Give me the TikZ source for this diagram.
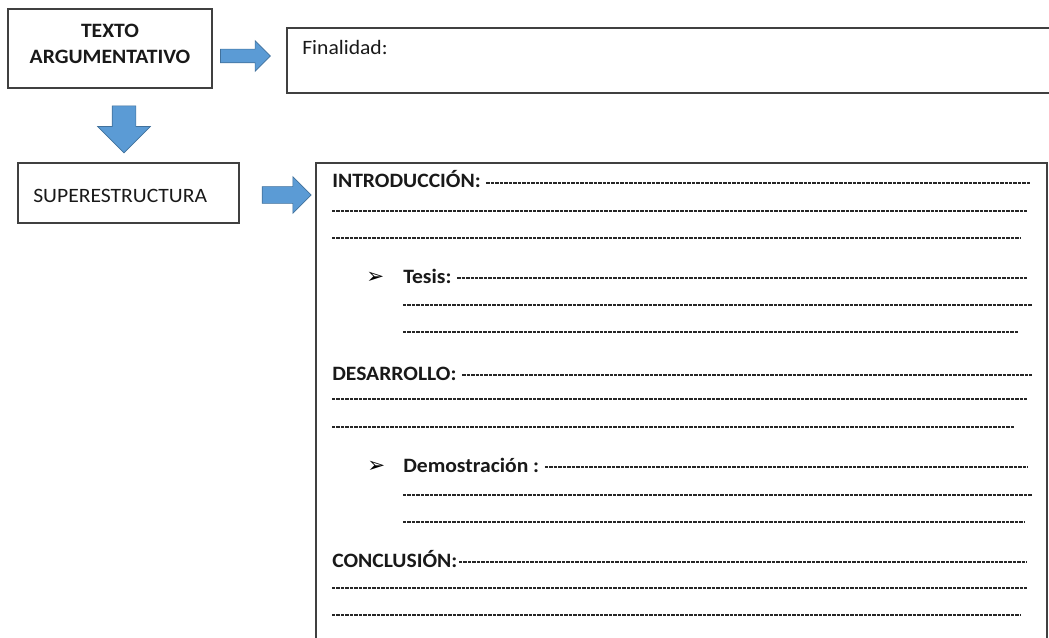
\documentclass[tikz,border=0pt]{standalone}
\usepackage{fontspec}
\setmainfont{Carlito}[FakeStretch=1.06]
\newfontfamily\symfont{DejaVu Sans}
\usetikzlibrary{shapes.arrows}
\usetikzlibrary{positioning}
\definecolor{arrowBlue}{HTML}{5B9BD5}
\definecolor{arrowEdge}{HTML}{41719C}
\newcommand\pxu{0.75pt}

\begin{document}
\begin{tikzpicture}
[x=0.75pt,y=-0.75pt,%
  boxDecorate/.style={shape=rectangle,draw=black!75,line width=1.1pt,inner sep=0pt},%
  arrowDecorate/.style={shape=single arrow,fill=arrowBlue,draw=arrowEdge,line width=0.5pt,inner xsep=0pt,single arrow tip angle=90,single arrow head indent=0pt},%
  lineDecorate/.style={draw=black!85,line width=0.85pt,dash pattern=on 2.6pt off 0.75pt},%
  textDecorate/.style={font=\fontsize{15.3}{20}\selectfont,inner sep=0pt,text=black!90},%
  boldDecorate/.style={font=\fontsize{15.3}{20}\selectfont\bfseries,inner sep=0pt,text=black!90},%
  bulletDecorate/.style={font=\symfont\fontsize{16}{16}\selectfont,inner sep=0pt}]
\useasboundingbox (0,0) rectangle (1049,638);
\clip (0,0) rectangle (1049,638);
%% boxes
\node[boxDecorate,minimum width=204*\pxu,minimum height=79*\pxu] (texto) at (110,48.5) {};
\node[boxDecorate,minimum width=768*\pxu,minimum height=65*\pxu] (final) at (671,60.5) {};
\node[boxDecorate,minimum width=221*\pxu,minimum height=60*\pxu] (super) at (128.5,193) {};
\node[boxDecorate,minimum width=731*\pxu,minimum height=482*\pxu] (cuerpo) at (681.5,404) {};
%% box labels
\node[boldDecorate,align=center] (textoLabel) at ([yshift=3.4pt]texto.center) {TEXTO\\ARGUMENTATIVO};
\node[textDecorate,anchor=base west] (finalLabel) at (302,55) {Finalidad:};
\node[textDecorate,anchor=base west] (superLabel) at (33,202) {SUPERESTRUCTURA};
%% block arrows
\node[arrowDecorate,minimum height=50*\pxu,inner ysep=6.5*\pxu,single arrow head extend=8.5*\pxu] (arrowFinal) at (242,56) {};
\node[arrowDecorate,minimum height=47*\pxu,inner ysep=11.5*\pxu,single arrow head extend=14.5*\pxu,rotate=-90] (arrowSuper) at (124,123.5) {};
\node[arrowDecorate,minimum height=49*\pxu,inner ysep=8*\pxu,single arrow head extend=10*\pxu] (arrowCuerpo) at (282.5,195) {};
%% section labels
\node[boldDecorate,anchor=base west] (intro) at (332,188) {INTRODUCCIÓN:};
\node[bulletDecorate,anchor=base west] (tesisBullet) at (366,283) {➢};
\node[boldDecorate,anchor=base west] (tesis) at (403,283) {Tesis:};
\node[boldDecorate,anchor=base west] (desarrollo) at (332,380) {DESARROLLO:};
\node[bulletDecorate,anchor=base west] (demoBullet) at (367,472) {➢};
\node[boldDecorate,anchor=base west] (demo) at (403,472) {Demostración :};
\node[boldDecorate,anchor=base west] (conclusion) at (332,567) {CONCLUSIÓN:};
%% dashed lines after the labels
\foreach \nodename/\xend/\gap in {intro/1030/4, tesis/1027/4, desarrollo/1032/4, demo/1028/4, conclusion/1027/1}
{
  \draw[lineDecorate] ([xshift=\gap pt,yshift=3.75pt]\nodename.base east) coordinate (\nodename-s) -- (\xend,0 |- \nodename-s);
}
%% remaining dashed lines
\foreach \xa/\xb/\y in {
  332/1027/211, 332/1020/238, 403/1032/305, 403/1018/332,
  332/1027/399, 332/1015/427, 403/1032/495, 403/1025/522,
  332/1027/588, 332/1020/615}
{
  \draw[lineDecorate] (\xa,\y) -- (\xb,\y);
}
\end{tikzpicture}
\end{document}
